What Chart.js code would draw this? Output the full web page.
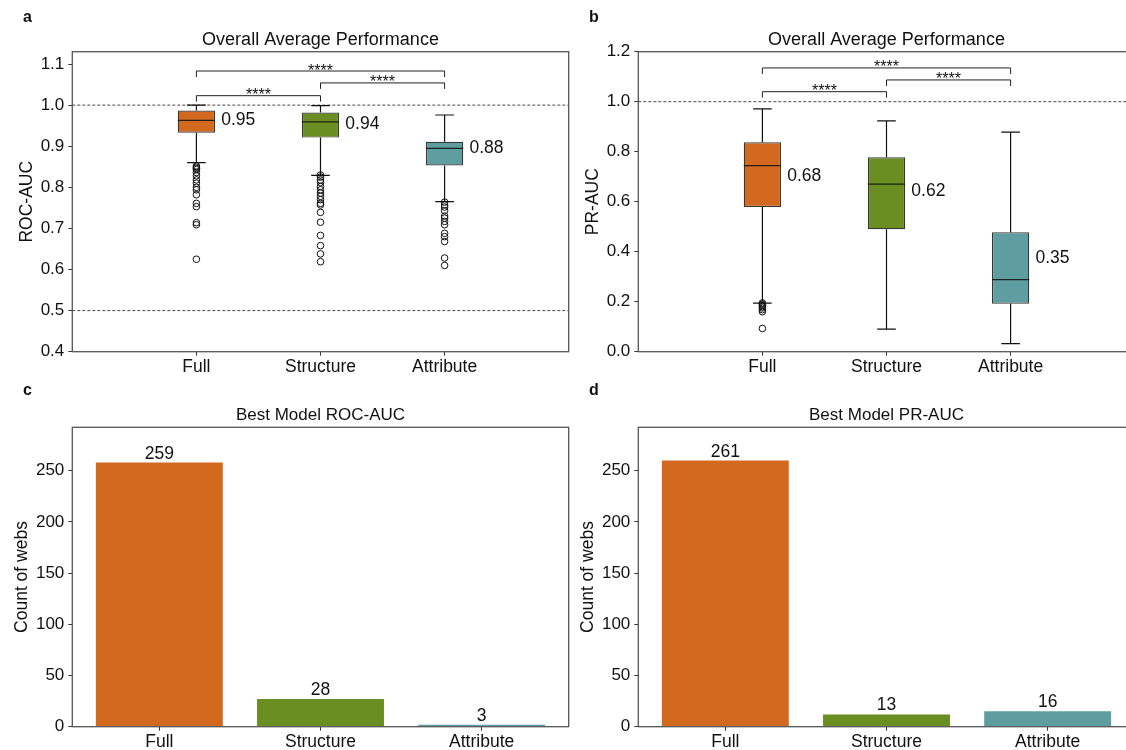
<!DOCTYPE html>
<html>
<head>
<meta charset="utf-8">
<script src="https://cdn.jsdelivr.net/npm/chart.js@4.4.1/dist/chart.umd.min.js"></script>
<style>
  body { margin: 0; background: #fff; overflow: hidden; }
  #page { position: relative; width: 1126px; height: 750px; overflow: hidden; background: #fff;
          font-family: "Liberation Sans", Arial, sans-serif; }
  canvas { position: absolute; }
  .tag { position: absolute; font-weight: bold; font-size: 16px; line-height: 16px; color: #111; }
</style>
</head>
<body>
<div id="page">
  <canvas id="chartA" width="575" height="380" style="left:0;top:0"></canvas>
  <canvas id="chartB" width="565" height="380" style="left:575px;top:0"></canvas>
  <canvas id="chartC" width="575" height="370" style="left:0;top:380px"></canvas>
  <canvas id="chartD" width="565" height="370" style="left:575px;top:380px"></canvas>
  <div class="tag" style="left:23px;top:9px">a</div>
  <div class="tag" style="left:589px;top:9px">b</div>
  <div class="tag" style="left:23px;top:382px">c</div>
  <div class="tag" style="left:589px;top:382px">d</div>
</div>
<script>
const categories = ["Full", "Structure", "Attribute"];
const colors = ["#D2691E", "#6B8E23", "#5F9EA0"];
const sigText = "****";

// a: ROC-AUC per web
const rocQ1 = [0.933, 0.921, 0.853];
const rocMedian = [0.963, 0.959, 0.895];
const rocQ3 = [0.987, 0.982, 0.911];
const rocLow = [0.860, 0.829, 0.765];
const rocHigh = [1.000, 0.999, 0.976];
const rocMean = [0.95, 0.94, 0.88];
const rocOutFull = [0.852, 0.849, 0.846, 0.843, 0.836, 0.828, 0.818, 0.810, 0.800, 0.794, 0.782, 0.761, 0.753, 0.714, 0.709, 0.625];
const rocOutStructure = [0.830, 0.825, 0.818, 0.812, 0.802, 0.794, 0.786, 0.778, 0.770, 0.761, 0.757, 0.739, 0.715, 0.683, 0.658, 0.638, 0.619];
const rocOutAttribute = [0.764, 0.757, 0.752, 0.743, 0.730, 0.725, 0.717, 0.709, 0.688, 0.680, 0.668, 0.628, 0.610];
const rocTicks = [0.4, 0.5, 0.6, 0.7, 0.8, 0.9, 1.0, 1.1];
const rocRefLines = [1.0, 0.5];
const rocPairs = [[0, 1], [1, 2], [0, 2]];
const rocPairLevels = [1.023, 1.054, 1.083];

// b: PR-AUC per web
const prQ1 = [0.579, 0.490, 0.192];
const prMedian = [0.744, 0.670, 0.288];
const prQ3 = [0.838, 0.778, 0.478];
const prLow = [0.194, 0.090, 0.032];
const prHigh = [0.971, 0.923, 0.878];
const prMean = [0.68, 0.62, 0.35];
const prOutFull = [0.195, 0.190, 0.185, 0.180, 0.175, 0.168, 0.160, 0.093];
const prTicks = [0.0, 0.2, 0.4, 0.6, 0.8, 1.0, 1.2];
const prRefLines = [1.0];
const prPairs = [[0, 1], [1, 2], [0, 2]];
const prPairLevels = [1.040, 1.087, 1.135];

// c, d: number of webs where each model is best
const bestRoc = [259, 28, 3];
const bestPr = [261, 13, 16];
const countTicks = [0, 50, 100, 150, 200, 250];

Chart.defaults.font.family = '"Liberation Sans", Arial, sans-serif';
Chart.defaults.color = "#111";
Chart.defaults.animation = false;

const spine = "#555";

function frame(ctx, area) {
    ctx.save();
    ctx.strokeStyle = spine;
    ctx.lineWidth = 1.3;
    ctx.strokeRect(area.left, area.top, area.right - area.left, area.bottom - area.top);
    ctx.restore();
}

function boxExtras(q1, med, q3, lo, hi, means, refLines, pairs, levels) {
    return {
        id: "boxExtras",
        beforeDatasetsDraw(chart) {
            const { ctx, chartArea, scales } = chart;
            const x = scales.x, y = scales.y;
            ctx.save();
            ctx.strokeStyle = "#333";
            ctx.lineWidth = 0.9;
            ctx.setLineDash([3, 2]);
            refLines.forEach(v => {
                const py = y.getPixelForValue(v);
                ctx.beginPath();
                ctx.moveTo(chartArea.left, py);
                ctx.lineTo(chartArea.right, py);
                ctx.stroke();
            });
            ctx.setLineDash([]);
            ctx.strokeStyle = "#111";
            ctx.lineWidth = 1.2;
            categories.forEach((c, i) => {
                const px = x.getPixelForValue(i);
                const cap = x.getPixelForValue(i + 0.075) - px;
                ctx.beginPath();
                ctx.moveTo(px, y.getPixelForValue(q3[i]));
                ctx.lineTo(px, y.getPixelForValue(hi[i]));
                ctx.moveTo(px - cap, y.getPixelForValue(hi[i]));
                ctx.lineTo(px + cap, y.getPixelForValue(hi[i]));
                ctx.moveTo(px, y.getPixelForValue(q1[i]));
                ctx.lineTo(px, y.getPixelForValue(lo[i]));
                ctx.moveTo(px - cap, y.getPixelForValue(lo[i]));
                ctx.lineTo(px + cap, y.getPixelForValue(lo[i]));
                ctx.stroke();
            });
            ctx.restore();
        },
        afterDatasetsDraw(chart) {
            const { ctx, scales } = chart;
            const x = scales.x, y = scales.y;
            ctx.save();
            // medians
            ctx.strokeStyle = "rgba(20,20,20,0.9)";
            ctx.lineWidth = 1.3;
            categories.forEach((c, i) => {
                const py = y.getPixelForValue(med[i]);
                ctx.beginPath();
                ctx.moveTo(x.getPixelForValue(i - 0.15), py);
                ctx.lineTo(x.getPixelForValue(i + 0.15), py);
                ctx.stroke();
            });
            // mean labels
            ctx.fillStyle = "#111";
            ctx.font = '17.5px "Liberation Sans", Arial, sans-serif';
            ctx.textAlign = "left";
            ctx.textBaseline = "middle";
            categories.forEach((c, i) => {
                ctx.fillText(means[i].toFixed(2), x.getPixelForValue(i + 0.2), y.getPixelForValue(means[i]) - 6);
            });
            // significance brackets
            ctx.strokeStyle = "#222";
            ctx.lineWidth = 1;
            ctx.font = '16px "Liberation Sans", Arial, sans-serif';
            ctx.textAlign = "center";
            ctx.textBaseline = "alphabetic";
            pairs.forEach((p, k) => {
                const a = x.getPixelForValue(p[0]);
                const b = x.getPixelForValue(p[1]);
                const py = y.getPixelForValue(levels[k]);
                ctx.beginPath();
                ctx.moveTo(a, py + 6);
                ctx.lineTo(a, py);
                ctx.lineTo(b, py);
                ctx.lineTo(b, py + 6);
                ctx.stroke();
                ctx.fillText(sigText, (a + b) / 2, py + 4.5);
            });
            ctx.restore();
        },
        afterDraw(chart) {
            frame(chart.ctx, chart.chartArea);
        }
    };
}

function barExtras(values) {
    return {
        id: "barExtras",
        afterDatasetsDraw(chart) {
            const ctx = chart.ctx;
            const meta = chart.getDatasetMeta(0);
            ctx.save();
            ctx.fillStyle = "#111";
            ctx.font = '17.5px "Liberation Sans", Arial, sans-serif';
            ctx.textAlign = "center";
            ctx.textBaseline = "alphabetic";
            meta.data.forEach((bar, i) => {
                ctx.fillText(String(values[i]), bar.x, bar.y - 3);
            });
            ctx.restore();
        },
        afterDraw(chart) {
            frame(chart.ctx, chart.chartArea);
        }
    };
}

function xAxis(min, max, height) {
    return {
        type: "linear",
        min: min,
        max: max,
        offset: false,
        afterBuildTicks: s => { s.ticks = categories.map((c, i) => ({ value: i })); },
        afterFit: s => { s.height = height; },
        grid: { drawOnChartArea: false, drawTicks: true, tickLength: 4, color: "#333", offset: false },
        border: { display: false },
        ticks: { callback: v => categories[v], font: { size: 17.5 }, color: "#111", padding: 1, maxRotation: 0, autoSkip: false }
    };
}

function yAxis(min, max, tickValues, digits, width, label, titlePad) {
    return {
        type: "linear",
        min: min,
        max: max,
        afterBuildTicks: s => { s.ticks = tickValues.map(v => ({ value: v })); },
        afterFit: s => { s.width = width; },
        grid: { drawOnChartArea: false, drawTicks: true, tickLength: 4, color: "#333" },
        border: { display: false },
        ticks: { callback: v => v.toFixed(digits), font: { size: 17 }, color: "#111", padding: 4, autoSkip: false },
        title: { display: true, text: label, font: { size: 17.5 }, color: "#111", padding: { top: titlePad, bottom: 0 } }
    };
}

function titleOpts(text, size, padTop, padBottom) {
    return {
        display: true,
        text: text,
        fullSize: false,
        font: { size: size, weight: "normal" },
        color: "#111",
        padding: { top: padTop, bottom: padBottom }
    };
}

function makeBoxChart(id, q1, med, q3, lo, hi, outliers, means, yMin, yMax, ticks, yLabel, yWidth, titlePad, padRight, refLines, pairs, levels) {
    const outPoints = [];
    outliers.forEach((list, i) => list.forEach(v => outPoints.push({ x: i, y: v })));
    return new Chart(document.getElementById(id), {
        type: "bar",
        data: {
            datasets: [
                {
                    data: categories.map((c, i) => ({ x: i, y: [q1[i], q3[i]] })),
                    backgroundColor: colors,
                    borderColor: "rgba(20,20,20,0.85)",
                    borderWidth: 1.2,
                    borderSkipped: false,
                    barPercentage: 0.3,
                    categoryPercentage: 1.0
                },
                {
                    type: "scatter",
                    data: outPoints,
                    showLine: false,
                    pointRadius: 3.3,
                    pointBorderWidth: 1,
                    pointBorderColor: "#111",
                    pointBackgroundColor: "rgba(0,0,0,0)"
                }
            ]
        },
        options: {
            responsive: false,
            layout: { padding: { left: 0, right: padRight, top: 0, bottom: 0 } },
            plugins: {
                legend: { display: false },
                tooltip: { enabled: false },
                title: titleOpts("Overall Average Performance", 18, 29.2, 0.9)
            },
            scales: {
                x: xAxis(-1, 3, 28.3),
                y: yAxis(yMin, yMax, ticks, 1, yWidth, yLabel, titlePad)
            }
        },
        plugins: [boxExtras(q1, med, q3, lo, hi, means, refLines, pairs, levels)]
    });
}

function makeBarChart(id, values, title, yWidth, titlePad, padRight) {
    return new Chart(document.getElementById(id), {
        type: "bar",
        data: {
            datasets: [
                {
                    data: categories.map((c, i) => ({ x: i, y: values[i] })),
                    backgroundColor: colors,
                    borderColor: "rgba(255,255,255,0.6)",
                    borderWidth: 1,
                    barPercentage: 0.8,
                    categoryPercentage: 1.0
                }
            ]
        },
        options: {
            responsive: false,
            layout: { padding: { left: 0, right: padRight, top: 0, bottom: 0 } },
            plugins: {
                legend: { display: false },
                tooltip: { enabled: false },
                title: titleOpts(title, 17, 24.8, 2.1)
            },
            scales: {
                x: xAxis(-0.54, 2.54, 23.3),
                y: yAxis(0, 292.5, countTicks, 0, yWidth, "Count of webs", titlePad)
            }
        },
        plugins: [barExtras(values)]
    });
}

makeBoxChart("chartA", rocQ1, rocMedian, rocQ3, rocLow, rocHigh,
    [rocOutFull, rocOutStructure, rocOutAttribute], rocMean,
    0.4, 1.13, rocTicks, "ROC-AUC", 72.3, 16.2, 6.3, rocRefLines, rocPairs, rocPairLevels);

makeBoxChart("chartB", prQ1, prMedian, prQ3, prLow, prHigh,
    [prOutFull, [], []], prMean,
    0, 1.2, prTicks, "PR-AUC", 63.3, 7.5, 5.3, prRefLines, prPairs, prPairLevels);

makeBarChart("chartC", bestRoc, "Best Model ROC-AUC", 72.3, 11.5, 6.3);
makeBarChart("chartD", bestPr, "Best Model PR-AUC", 63.3, 2.5, 5.3);
</script>
</body>
</html>
